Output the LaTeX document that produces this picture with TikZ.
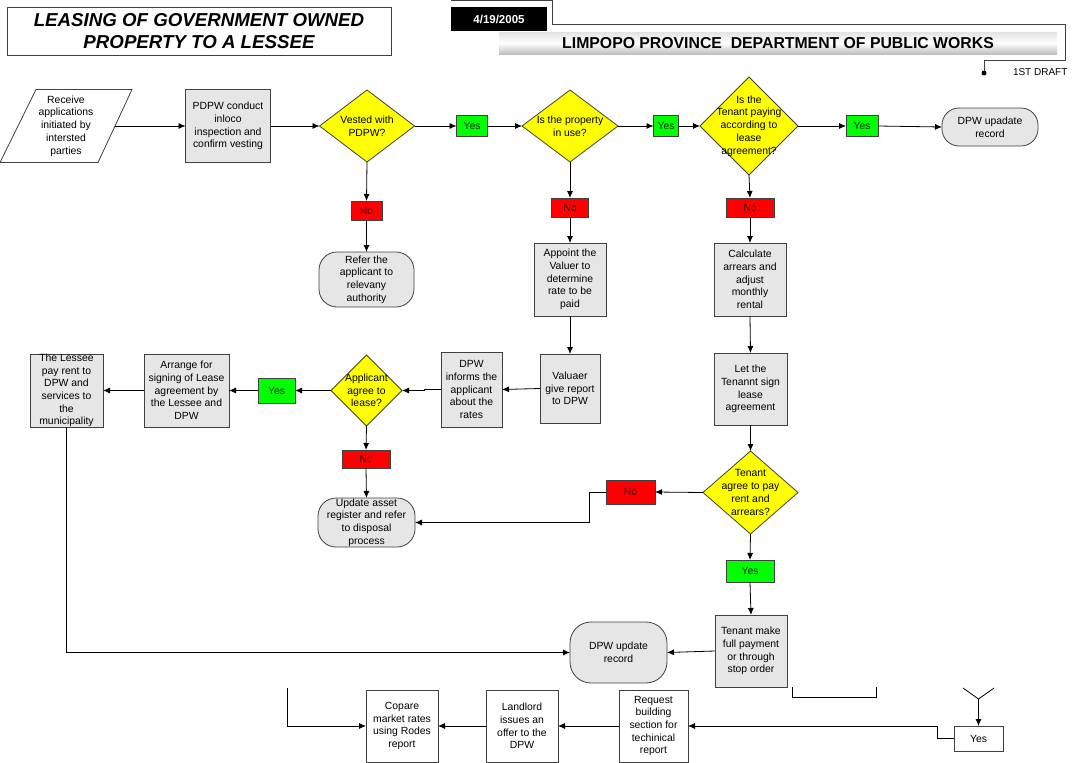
\documentclass[tikz,border=0pt]{standalone}
\usepackage{fontspec}
\setmainfont{Liberation Sans}
\usetikzlibrary{shapes.geometric,arrows.meta,calc}
\definecolor{boxgray}{HTML}{E6E6E6}
\definecolor{edgegray}{HTML}{404040}
\definecolor{askyellow}{HTML}{FFFF00}
\definecolor{yesgreen}{HTML}{00FF00}
\definecolor{nored}{HTML}{FF0000}
\definecolor{yesink}{HTML}{0A2A0A}
\definecolor{noink}{HTML}{4A0000}
\newcommand\boxfont{\fontsize{10.4}{12.7}\selectfont}
\newcommand\titlefont{\fontsize{18.7}{22.5}\selectfont\bfseries\itshape}
\newcommand\bannerfont{\fontsize{15.8}{18}\selectfont\bfseries}
\newcommand\datefont{\fontsize{11.5}{13}\selectfont\bfseries}
\newcommand\draftfont{\fontsize{10}{12}\selectfont}
\tikzset{
  every node/.style={inner sep=0pt, outer sep=0pt},
  wh/.style 2 args={minimum width=#1, minimum height=#2},
  txt/.style={label={[boxtext]center:{#1}}},
  boxtext/.style={font=\boxfont, align=center, text=black},
  inbox/.style={rectangle},
  proc/.style={rectangle, draw=edgegray, fill=boxgray, line width=0.8pt},
  plain/.style={rectangle, draw=edgegray, fill=white, line width=0.8pt},
  ask/.style={diamond, draw=edgegray, fill=askyellow, line width=0.8pt},
  pill/.style={rectangle, rounded corners=18pt, draw=edgegray, fill=boxgray, line width=0.8pt},
  yesbox/.style={rectangle, draw=edgegray, fill=yesgreen, line width=0.8pt, font=\boxfont, text=yesink},
  nobox/.style={rectangle, draw=edgegray, fill=nored, line width=0.8pt, font=\boxfont, text=noink},
  flow/.style={-{Latex[length=7pt,width=6pt]}, line width=0.8pt},
  wire/.style={line width=0.8pt},
}
\begin{document}
\begin{tikzpicture}[x=1pt,y=-1pt]
\useasboundingbox (0,0) rectangle (1072,763);

\node[draw=edgegray, line width=0.8pt, wh={384}{48}, font=\titlefont, align=center] (title) at (199,31) {LEASING OF GOVERNMENT OWNED\\PROPERTY TO A LESSEE};
\node[fill=black, wh={96}{24}, font=\datefont, text=white] (date) at (499,19) {4/19/2005};
\node[top color=gray!22, bottom color=gray!50, middle color=white, wh={558}{22}, font=\bannerfont] (banner) at (778,43) {LIMPOPO PROVINCE\ \ DEPARTMENT OF PUBLIC WORKS};
\node[circle, fill=black, minimum size=5] (pin) at (984,73) {};
\node[font=\draftfont, anchor=west] (draft) at (1013,72) {1ST DRAFT};
\coordinate (frame) at (451,0.5);
\draw[edgegray, wire] (frame) -- (552,0.5) -- (552,24) -- (1065,24) -- (1065,60) -- (984,60) -- (pin);

\node[inbox, wh={98}{73}, txt={Receive\\applications\\initiated by\\intersted\\parties}] (recv) at (66,126) {};
\draw[edgegray, wire] ($(recv.south west)+(-17,0)$) -- ($(recv.north west)+(19,0)$) -- ($(recv.north east)+(17,0)$) -- ($(recv.south east)+(-17,0)$) -- cycle;
\node[proc, wh={85}{73}, txt={PDPW conduct\\inloco\\inspection and\\confirm vesting}] (inspect) at (228,126) {};
\node[ask, wh={95}{72}, txt={Vested with\\PDPW?}] (vested) at (367,126) {};
\node[yesbox, wh={31}{21}] (yes1) at (472,126) {Yes};
\node[ask, wh={96}{72}, txt={Is the property\\in use?}] (inuse) at (570,126) {};
\node[yesbox, wh={25}{21}] (yes2) at (666,126) {Yes};
\node[ask, wh={98}{98}, txt={Is the\\Tenant paying\\according to\\lease\\agreement?}] (paying) at (749,126) {};
\node[yesbox, wh={32}{21}] (yes3) at (862,126) {Yes};
\node[pill, rounded corners=17pt, wh={96}{38}, txt={DPW upadate\\record}] (upd1) at (990,127) {};

\node[nobox, wh={31}{19}] (no1) at (366.5,210.5) {No};
\node[pill, wh={95}{55}, txt={Refer the\\applicant to\\relevany\\authority}] (refer) at (366.5,279.5) {};

\node[nobox, wh={37}{19}] (no2) at (570,207.5) {No};
\node[proc, wh={72}{73}, txt={Appoint the\\Valuer to\\determine\\rate to be\\paid}] (appoint) at (570,279.5) {};
\node[proc, wh={60}{69}, txt={Valuaer\\give report\\to DPW}] (valuer) at (570,388.5) {};
\node[proc, wh={61}{75}, txt={DPW\\informs the\\applicant\\about the\\rates}] (informs) at (471.5,389.5) {};
\node[ask, wh={71}{71}, txt={Applicant\\agree to\\lease?}] (agree) at (366.5,390.5) {};
\node[yesbox, wh={37}{25}] (yes4) at (276.5,390.5) {Yes};
\node[proc, wh={85}{73}, txt={Arrange for\\signing of Lease\\agreement by\\the Lessee and\\DPW}] (arrange) at (186.5,390.5) {};
\node[proc, wh={73}{73}, txt={The Lessee\\pay rent to\\DPW and\\services to\\the\\municipality}] (lessee) at (66.5,390.5) {};
\node[nobox, wh={48}{18}] (no4) at (366,459) {No};
\node[pill, wh={97}{49}, txt={Update asset\\register and refer\\to disposal\\process}] (disp) at (366.5,522.5) {};

\node[nobox, wh={48}{19}] (no3) at (750,207.5) {No};
\node[proc, wh={72}{73}, txt={Calculate\\arrears and\\adjust\\monthly\\rental}] (calc) at (750,279.5) {};
\node[proc, wh={73}{72}, txt={Let the\\Tenannt sign\\lease\\agreement}] (letsign) at (750.5,389) {};
\node[ask, wh={95}{83}, txt={Tenant\\agree to pay\\rent and\\arrears?}] (tagree) at (750.5,492.5) {};
\node[nobox, wh={49}{24}] (no5) at (630.5,492) {No};
\node[yesbox, wh={48}{22}] (yes5) at (750,571) {Yes};
\node[proc, wh={72}{72}, txt={Tenant make\\full payment\\or through\\stop order}] (tmake) at (751,651) {};
\node[pill, rounded corners=21pt, wh={97}{61}, txt={DPW update\\record}] (upd2) at (618.5,652.5) {};

\node[plain, wh={69}{72}, txt={Request\\building\\section for\\techinical\\report}] (request) at (653.5,726) {};
\node[plain, wh={72}{72}, txt={Landlord\\issues an\\offer to the\\DPW}] (landlord) at (522,726) {};
\node[plain, wh={72}{72}, txt={Copare\\market rates\\using Rodes\\report}] (compare) at (402,726) {};
\node[plain, wh={49}{25}, txt={Yes}] (yesb) at (978.5,738.5) {};
\coordinate (fork) at (978.5,699);
\coordinate (stub) at (287,688);

\draw[flow] (recv.east) -- (inspect.west);
\draw[flow] (inspect.east) -- (vested.west);
\draw[flow] (vested.east) -- (yes1.west);
\draw[flow] (yes1.east) -- (inuse.west);
\draw[flow] (inuse.east) -- (yes2.west);
\draw[flow] (yes2.east) -- (paying.west);
\draw[flow] (paying.east) -- (yes3.west);
\draw[flow] (yes3.east) -- (upd1.west);

\draw[flow] (vested.south) -- (no1.north);
\draw[flow] (no1.south) -- (refer.north);
\draw[flow] (inuse.south) -- (no2.north);
\draw[flow] (no2.south) -- (appoint.north);
\draw[flow] (appoint.south) -- (valuer.north);
\draw[flow] (valuer.west) -- (informs.east);
\draw[flow] (informs.west) -- ($(informs.west)+(-17,0)$) |- (agree.east);
\draw[flow] (agree.west) -- (yes4.east);
\draw[flow] (yes4.west) -- (arrange.east);
\draw[flow] (arrange.west) -- (lessee.east);
\draw[flow] (agree.south) -- (no4.north);
\draw[flow] (no4.south) -- (disp.north);

\draw[flow] (paying.south) -- (no3.north);
\draw[flow] (no3.south) -- (calc.north);
\draw[flow] (calc.south) -- (letsign.north);
\draw[flow] (letsign.south) -- (tagree.north);
\draw[flow] (tagree.west) -- (no5.east);
\draw[flow] (no5.west) -- ($(no5.west)+(-17,0)$) |- (disp.east);
\draw[flow] (tagree.south) -- (yes5.north);
\draw[flow] (yes5.south) -- (tmake.north);
\draw[flow] (tmake.west) -- (upd2.east);
\draw[flow] (lessee.south) |- (upd2.west);

\draw[wire] (792,687) -- (792,697) -- (876,697) -- (876,687);
\draw[wire] (963,688) -- (fork) -- (994,688);
\draw[flow] (fork) -- (yesb.north);
\draw[flow] (yesb.west) -- ($(yesb.west)+(-17,0)$) |- (request.east);
\draw[flow] (request.west) -- (landlord.east);
\draw[flow] (landlord.west) -- (compare.east);
\draw[flow] (stub) |- (compare.west);
\end{tikzpicture}
\end{document}
